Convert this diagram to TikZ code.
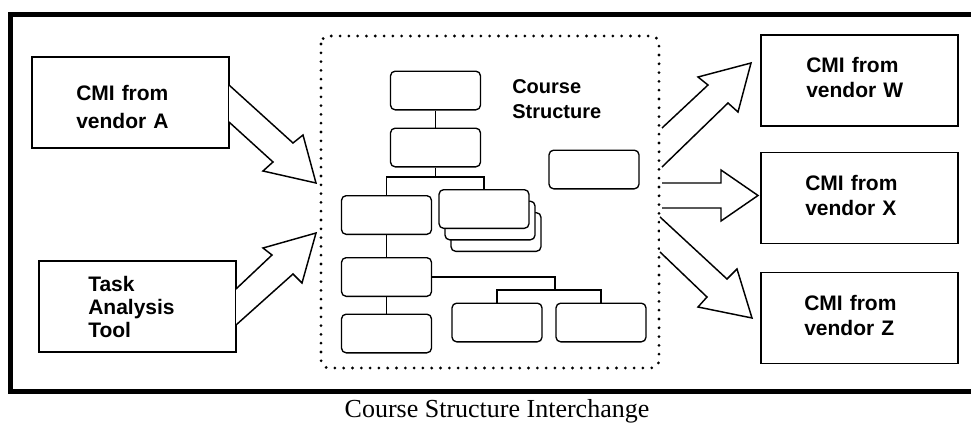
\documentclass[tikz,border=0pt]{standalone}
\usepackage{fontspec}
\setmainfont{Liberation Serif}
\newfontfamily\arialfont{Liberation Sans}
\usetikzlibrary{calc}
\begin{document}
\begin{tikzpicture}[x=0.75pt,y=-0.75pt,
  frameline/.style={line width=3.75pt},
  obox/.style={draw, line width=1.1pt, minimum width=147.75pt, minimum height=68.25pt, inner sep=0pt},
  rbox/.style={draw, line width=1pt, rounded corners=3.5pt, fill=white, minimum width=67.5pt, minimum height=29pt, inner sep=0pt},
  link/.style={line width=1pt},
  barrow/.style={draw, line width=1.1pt, fill=white, line join=miter},
  lbl/.style={inner sep=0pt, align=left, text width=80pt, anchor=base west, font=\arialfont\bfseries\fontsize{15.75}{18.75}\selectfont},
  dotbox/.style={line width=2.3pt, dash pattern=on 0pt off 6.6pt, line cap=round, rounded corners=6pt},
]
\useasboundingbox (0,0) rectangle (971,425);
% outer frame (open on the right)
\draw[frameline] (985,14.5) -- (10.5,14.5) -- (10.5,391.5) -- (985,391.5);

% dotted course structure area
\draw[dotbox] (321,36) rectangle (659,368);

% outer boxes
\node[obox] (A) at (130.5,102.5) {};
\node[obox] (T) at (137.5,306.5) {};
\node[obox] (W) at (859.5,80.5) {};
\node[obox] (X) at (859.5,198) {};
\node[obox] (Z) at (859.5,318) {};

\node[lbl, font=\arialfont\bfseries\fontsize{15.75}{21}\selectfont] (tA) at (76,100) {CMI from\\vendor A};
\node[lbl, font=\arialfont\bfseries\fontsize{15.75}{17.25}\selectfont] (tT) at (88,291) {Task\\Analysis\\Tool};
\node[lbl] (tW) at (806,72) {CMI from\\vendor W};
\node[lbl] (tX) at (805,190) {CMI from\\vendor X};
\node[lbl] (tZ) at (804,310) {CMI from\\vendor Z};

% inner structure
\node[lbl, font=\arialfont\bfseries\fontsize{15}{18.75}\selectfont] (cs) at (512,93) {Course\\Structure};
\node[rbox] (b1) at (435.5,90.5) {};
\node[rbox] (b2) at (435.5,147.5) {};
\node[rbox] (b3) at (386.5,215) {};
\node[rbox] (s3) at (496,232) {};
\node[rbox] (s2) at (490,220.5) {};
\node[rbox] (s1) at (484,209) {};
\node[rbox] (bi) at (594,169.5) {};
\node[rbox] (b4) at (386.5,277) {};
\node[rbox] (b5) at (386.5,333.5) {};
\node[rbox] (b6) at (497,322.5) {};
\node[rbox] (b7) at (601,322.5) {};

\coordinate (j1) at (435.5,177);
\coordinate (j2) at (555,290);
\draw[link] (b1.south) -- (b2.north);
\draw[link] (b2.south) -- (j1);
\draw[link] (b3.north) |- (j1) -| (s1.north);
\draw[link] (b3.south) -- (b4.north);
\draw[link] (b4.south) -- (b5.north);
\draw[link] (b4.east) -| (j2);
\draw[link] (b6.north) |- (j2) -| (b7.north);

% block arrows
\draw[barrow] (229,85) -- (293,143) -- (303,135) -- (316,183) -- (263,171) -- (273,162) -- (229,122);
\draw[barrow] (236,289) -- (272,255) -- (263,248) -- (316,233) -- (302,283) -- (293,274) -- (236,325);
\draw[barrow] (662,128) -- (708,85) -- (698,77) -- (751,63) -- (738,112) -- (728,103) -- (662,167);
\draw[barrow] (662,183) -- (721,183) -- (721,170) -- (758,195.5) -- (721,221) -- (721,208) -- (662,208);
\draw[barrow] (660,217) -- (727,279) -- (737,269) -- (752,318) -- (698,307) -- (707,297) -- (660,252);

% caption
\node[anchor=base, inner sep=0pt, font=\fontsize{19.5}{24}\selectfont] (cap) at (497,417) {Course Structure Interchange};
\end{tikzpicture}
\end{document}
